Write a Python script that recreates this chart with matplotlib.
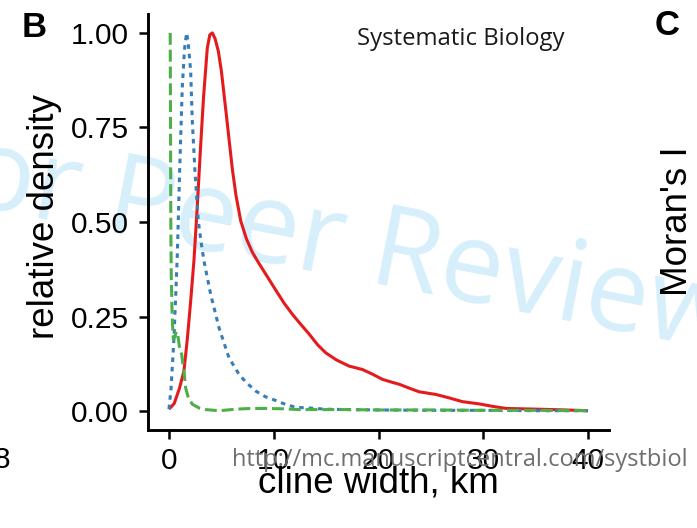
import numpy as np
import matplotlib
matplotlib.use("Agg")
import matplotlib.pyplot as plt

# relative density of cline widths (km), one curve per group
red_x = [0, 0.5, 1.0, 1.43, 1.75, 2.07, 2.39, 2.7, 3.0, 3.3, 3.66, 3.9, 4.14, 4.4,
         4.71, 5.0, 5.41, 5.73, 6.05, 6.4, 6.85, 7.4, 7.96, 8.6, 9.4, 10.19, 11.0,
         11.78, 12.5, 13.37, 14.2, 14.97, 16.0, 17.19, 18.46, 19.4, 20.37, 21.2,
         21.97, 23.0, 23.88, 25.47, 26.6, 28.0, 29.6, 31.0, 32.2, 35.3, 37.9, 40]
red_y = [0.005, 0.02, 0.06, 0.106, 0.19, 0.29, 0.40, 0.54, 0.69, 0.83, 0.96, 0.995,
         1.0, 0.985, 0.952, 0.9, 0.80, 0.72, 0.64, 0.57, 0.503, 0.455, 0.42, 0.39,
         0.355, 0.32, 0.285, 0.256, 0.232, 0.204, 0.175, 0.154, 0.135, 0.119, 0.110,
         0.098, 0.084, 0.077, 0.071, 0.06, 0.051, 0.044, 0.036, 0.025, 0.019, 0.012,
         0.007, 0.005, 0.003, 0.001]

blue_x = [0, 0.2, 0.48, 0.65, 0.8, 1.02, 1.27, 1.45, 1.53, 1.69, 1.85, 2.07, 2.23,
          2.48, 2.8, 3.05, 3.34, 3.98, 4.78, 5.73, 6.69, 7.4, 8.28, 9.2, 10.19,
          11.1, 12.1, 13.4, 15, 17, 20, 25, 30, 35, 40]
blue_y = [0.005, 0.06, 0.194, 0.31, 0.415, 0.635, 0.855, 0.94, 0.97, 1.0, 0.97,
          0.90, 0.767, 0.635, 0.503, 0.45, 0.397, 0.309, 0.220, 0.141, 0.097, 0.075,
          0.053, 0.038, 0.028, 0.018, 0.01, 0.008, 0.005, 0.004, 0.003, 0.002,
          0.002, 0.001, 0.001]

green_x = [0.12, 0.14, 0.16, 0.18, 0.22, 0.28, 0.34, 0.42, 0.55, 0.7, 0.85, 1.0,
           1.21, 1.43, 1.59, 1.8, 2.23, 2.9, 3.5, 4.8, 6.0, 7.0, 7.96, 9.2, 11.0,
           12.4, 14, 17, 20, 25, 30, 35, 40]
green_y = [1.0, 0.85, 0.65, 0.48, 0.36, 0.28, 0.23, 0.19, 0.195, 0.21, 0.2, 0.17,
           0.15, 0.106, 0.062, 0.04, 0.018, 0.008, 0.004, 0.001, 0.004, 0.006,
           0.007, 0.007, 0.006, 0.004, 0.004, 0.004, 0.003, 0.003, 0.002, 0.002,
           0.001]

x_ticks = [0, 10, 20, 30, 40]
y_ticks = [0.00, 0.25, 0.50, 0.75, 1.00]

plt.rcParams['font.family'] = ['Liberation Sans', 'DejaVu Sans']

fig = plt.figure(figsize=(6.97, 5.28), dpi=100)
ax = fig.add_axes([148/697, 98/528, 461/697, 416/528])
ax.patch.set_alpha(0)

# journal watermark behind everything
fig.text(-0.136, 0.636, 'For Peer Review', family='Open Sans', fontsize=81,
         color='#d6effb', rotation=-11, rotation_mode='anchor',
         ha='left', va='baseline', zorder=-5)

ax.plot(red_x, red_y, color='#e41a1c', lw=2.2, solid_capstyle='butt')
ax.plot(blue_x, blue_y, color='#377eb8', lw=2.2, linestyle=(0, (1.5, 1.6)),
        dash_capstyle='butt')
ax.plot(green_x, green_y, color='#4daf4a', lw=2.2, linestyle=(0, (3.9, 1.6)),
        dash_capstyle='butt')

ax.set_xlim(-2, 42)
ax.set_ylim(-0.05, 1.05)
ax.set_xticks(x_ticks)
ax.set_yticks(y_ticks)
ax.set_yticklabels([f'{v:.2f}' for v in y_ticks])
for s in ['top', 'right']:
    ax.spines[s].set_visible(False)
for s in ['left', 'bottom']:
    ax.spines[s].set_linewidth(2.1)
ax.tick_params(length=6.5, width=1.8, labelsize=21.5, colors='black')
ax.tick_params(axis='x', pad=6)
ax.tick_params(axis='y', pad=7.5)

ax.set_xlabel('cline width, km', fontsize=26.5)
ax.set_ylabel('relative density', fontsize=26.5)
ax.xaxis.set_label_coords(0.5, -0.085)
ax.yaxis.set_label_coords(-0.187, 0.512)

fig.text(22/697, 1 - 37/528, 'B', fontsize=25, fontweight='bold')
fig.text(655/697, 1 - 35/528, 'C', fontsize=25, fontweight='bold')
fig.text(687/697, 1 - 221/528, "Moran's I", fontsize=26.5, rotation=90,
         rotation_mode='anchor', ha='center', va='baseline')
fig.text(10/697, 1 - 468/528, '8', fontsize=21.5, ha='right', va='baseline')

fig.text(357/697, 1 - 45/528, 'Systematic Biology', family='Open Sans',
         fontsize=17.2, color='#1a1a1a')
fig.text(232/697, 1 - 466/528, 'http://mc.manuscriptcentral.com/systbiol',
         family='Open Sans', fontsize=17, color='#6e6e6e')

fig.savefig('out.png', dpi=100)
